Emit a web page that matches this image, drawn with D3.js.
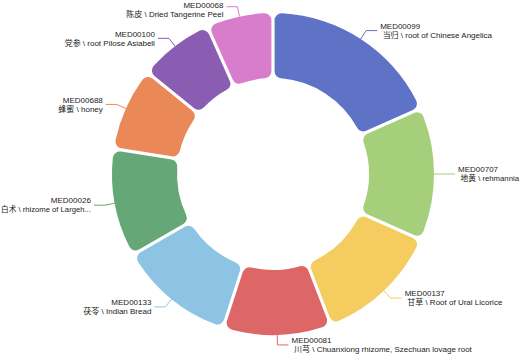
<!DOCTYPE html>
<html>
<head>
<meta charset="utf-8">
<script src="https://cdn.jsdelivr.net/npm/d3@7"></script>
<style>
html,body{margin:0;padding:0;background:#fff;}
svg{display:block;}
</style>
</head>
<body>
<svg id="chart" width="520" height="358"></svg>
<script>
const codes = ['MED00099','MED00707','MED00137','MED00081','MED00133','MED00026','MED00688','MED00100','MED00068'];
const names = ['当归 \\ root of Chinese Angelica','地黄 \\ rehmannia','甘草 \\ Root of Ural Licorice','川芎 \\ Chuanxiong rhizome, Szechuan lovage root','茯苓 \\ Indian Bread','白术 \\ rhizome of Largeh...','蜂蜜 \\ honey','党参 \\ root Pilose Asiabell','陈皮 \\ Dried Tangerine Peel'];
const values = [22,16,15,13,14,13,10,9,8];
const colors = ['#5e72c6','#a6cf7c','#f4cc5f','#dd6666','#8ec4e3','#65a776','#ea8858','#8b5db2','#d87dcc'];

const W = 520, H = 358;
const cx = 273, cy = 174;
const rOuter = 161, rInner = 96;
const len1 = 10, len2 = 11, gap = 3;

const data = codes.map((c,i)=>({code:c, name:names[i], value:values[i], color:colors[i]}));
const svg = d3.select('#chart');
const g = svg.append('g').attr('transform', `translate(${cx},${cy})`);

const pie = d3.pie().value(d=>d.value).sort(null).startAngle(0).endAngle(2*Math.PI);
const arcs = pie(data);
const arc = d3.arc().innerRadius(rInner).outerRadius(rOuter).cornerRadius(7).padAngle(0.017);

g.selectAll('path.slice').data(arcs).enter().append('path')
  .attr('class','slice')
  .attr('d', arc)
  .attr('fill', d=>d.data.color);

const fontFamily = '"Liberation Sans", Arial, "Noto Sans CJK SC", sans-serif';

arcs.forEach(d=>{
  const a = (d.startAngle + d.endAngle)/2;
  const s = Math.sin(a), c = -Math.cos(a);
  const p0 = [rOuter*s, rOuter*c];
  const p1 = [(rOuter+len1)*s, (rOuter+len1)*c];
  const right = s >= 0;
  const p2 = [p1[0] + (right ? len2 : -len2), p1[1]];
  g.append('polyline')
    .attr('points', [p0,p1,p2].map(p=>p.join(',')).join(' '))
    .attr('fill','none')
    .attr('stroke', d.data.color)
    .attr('stroke-width', 1);
  const tx = p2[0] + (right ? gap : -gap);
  // keep the two-line block inside the canvas vertically
  let ly = p2[1];
  const topAbs = cy + ly - 9;
  if (topAbs < 0.5) ly += (0.5 - topAbs);
  const t = g.append('text')
    .attr('font-family', fontFamily)
    .attr('font-size', 8)
    .attr('fill', '#222')
    .attr('text-anchor', right ? 'start' : 'end');
  t.append('tspan').attr('x', tx).attr('y', ly-4.5).attr('dy','0.35em').text(d.data.code);
  const t2 = t.append('tspan').attr('x', tx + (right ? 2.5 : 0)).attr('y', ly+4.5).attr('dy','0.35em').text(d.data.name);
  // fit horizontally inside canvas
  const w = t2.node().getComputedTextLength();
  const avail = right ? (W - 1 - (cx + tx + 2.5)) : (cx + tx - 1);
  if (w > avail) {
    t2.attr('textLength', avail).attr('lengthAdjust', 'spacingAndGlyphs');
  }
});
</script>
</body>
</html>
